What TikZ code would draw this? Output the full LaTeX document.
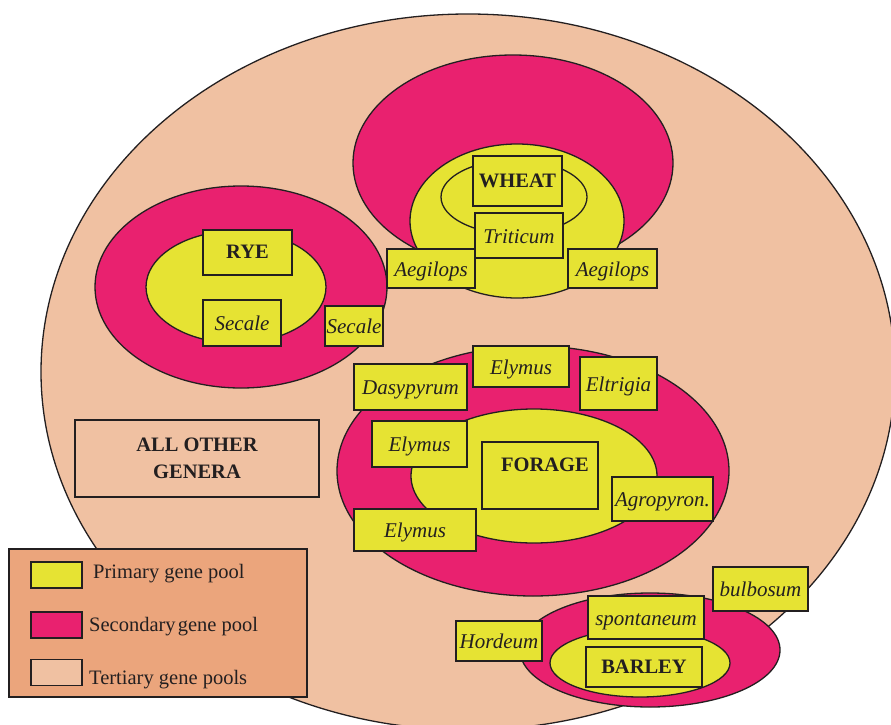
\documentclass[tikz,border=0pt]{standalone}
\usepackage{fontspec}
\setmainfont{Liberation Serif}
\definecolor{tertiary}{HTML}{F0C1A2}
\definecolor{secondary}{HTML}{E9216F}
\definecolor{primary}{HTML}{E6E333}
\definecolor{legendbg}{HTML}{EBA57C}
\definecolor{ink}{HTML}{231F20}
\newcommand\diagfont{\fontsize{20.5}{27}\selectfont}
\newcommand\labelfont{\fontsize{21}{27}\selectfont}
\tikzset{
  pool/.style={draw=ink, line width=1.3pt},
  genus/.style={draw=ink, fill=primary, line width=1.3pt, inner sep=0pt,
                text height=15pt, text depth=0pt,
                text=ink, font=\labelfont\itshape},
  crop/.style={draw=ink, fill=primary, line width=1.3pt, inner sep=0pt,
               text height=12pt, text depth=0pt,
               text=ink, font=\diagfont\bfseries},
  swatch/.style={draw=ink, line width=1.3pt, minimum width=51pt,
                 minimum height=26pt, inner sep=0pt},
  legtext/.style={anchor=base west, inner sep=0pt, text=ink, font=\diagfont}
}
\begin{document}
\begin{tikzpicture}[x=1pt, y=-1pt]
\useasboundingbox (0,0) rectangle (891,725);

% tertiary gene pool: the large background oval
\begin{scope}
  \clip (0,0) rectangle (891,725);
  \draw[pool, fill=tertiary] (468,372) ellipse [x radius=427pt, y radius=358pt];
\end{scope}

% rye pools
\draw[pool, fill=secondary] (241,287) ellipse [x radius=146pt, y radius=101pt];
\draw[pool, fill=primary]   (236,287) ellipse [x radius=90pt, y radius=56pt];

% wheat pools
\draw[pool, fill=secondary] (513,163) ellipse [x radius=160pt, y radius=108pt];
\draw[pool, fill=primary]   (517,221) ellipse [x radius=107pt, y radius=77pt];
\draw[pool]                 (514,197) ellipse [x radius=73pt, y radius=37pt];

% forage pools
\draw[pool, fill=secondary] (533,471) ellipse [x radius=196pt, y radius=125pt];
\draw[pool, fill=primary]   (534,476) ellipse [x radius=123pt, y radius=67pt];

% barley pools
\draw[pool, fill=secondary] (650,650) ellipse [x radius=130pt, y radius=57pt];
\draw[pool, fill=primary]   (640,663) ellipse [x radius=90pt, y radius=34pt];

% wheat labels
\node[crop,  minimum width=89pt, minimum height=50pt] (wheat)    at (517.5,181)   {WHEAT};
\node[genus, minimum width=88pt, minimum height=45pt] (triticum) at (519,235.5)   {Triticum};
\node[genus, minimum width=88pt, minimum height=39pt] (aegilopsL) at (431,268.5)  {Aegilops};
\node[genus, minimum width=89pt, minimum height=39pt] (aegilopsR) at (612.5,268.5){Aegilops};

% rye labels
\node[crop,  minimum width=89pt, minimum height=45pt] (rye)      at (247.5,252.5) {RYE};
\node[genus, minimum width=78pt, minimum height=46pt] (secaleA)  at (242,323)     {Secale};
\node[genus, minimum width=58pt, minimum height=40pt] (secaleB)  at (354,326)     {Secale};

% forage labels
\node[genus, minimum width=113pt, minimum height=46pt] (dasypyrum) at (410.5,387) {Dasypyrum};
\node[genus, minimum width=96pt,  minimum height=41pt] (elymusA)   at (521,366.5) {Elymus};
\node[genus, minimum width=77pt,  minimum height=53pt] (eltrigia)  at (618.5,383.5) {Eltrigia};
\node[genus, minimum width=95pt,  minimum height=46pt] (elymusB)   at (419.5,444) {Elymus};
\node[crop,  minimum width=116pt, minimum height=67pt] (forage)    at (540,475.5) {};
\node[text=ink, font=\diagfont\bfseries, inner sep=0pt] (foragetext) at (545,465) {FORAGE};
\node[genus, minimum width=101pt, minimum height=44pt] (agropyron) at (662.5,499) {Agropyron.};
\node[genus, minimum width=122pt, minimum height=42pt] (elymusC)   at (415,530)   {Elymus};

% barley labels
\node[genus, minimum width=116pt, minimum height=43pt] (spontaneum) at (646,617.5) {spontaneum};
\node[crop,  minimum width=116pt, minimum height=40pt] (barley)     at (644,667)   {BARLEY};
\node[genus, minimum width=86pt,  minimum height=40pt] (hordeum)    at (499,641)   {Hordeum};
\node[genus, minimum width=95pt,  minimum height=44pt] (bulbosum)   at (760.5,589) {bulbosum};

% remaining genera
\node[draw=ink, line width=1.3pt, minimum width=244pt, minimum height=77pt,
      inner sep=0pt, align=center, text=ink, font=\diagfont\bfseries]
      (others) at (197,458.5) {ALL OTHER\\GENERA};

% legend
\draw[draw=ink, line width=1.3pt, fill=legendbg] (9,549) rectangle (307,697);
\node[swatch, fill=primary]   (swP) at (56.5,575) {};
\node[swatch, fill=secondary] (swS) at (56.5,625) {};
\node[swatch, fill=tertiary]  (swT) at (56.5,672.5) {};
\node[legtext] (lgP) at (93,578) {Primary gene pool};
\node[legtext] (lgS) at (89,631) {Secondary\hspace{0.1em}gene pool};
\node[legtext] (lgT) at (89,684) {Tertiary gene pools};
\end{tikzpicture}
\end{document}
